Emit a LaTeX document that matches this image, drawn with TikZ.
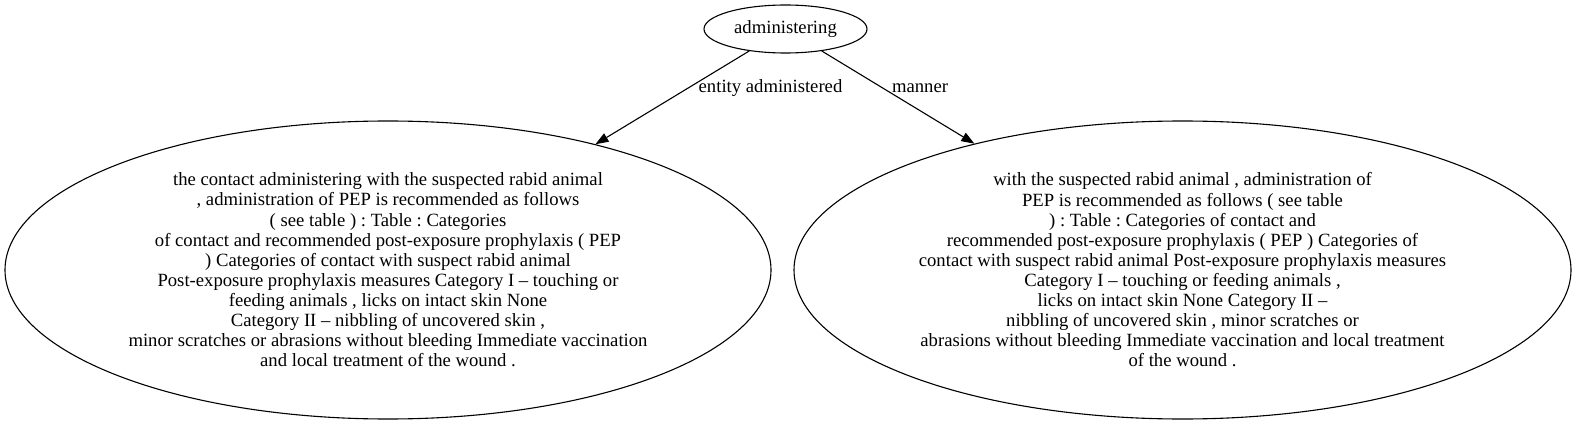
\documentclass[tikz,border=0pt]{standalone}
\usepackage{fontspec}
\setmainfont{Liberation Serif}
\usetikzlibrary{shapes.geometric,arrows.meta}
\frenchspacing
\begin{document}
\begin{tikzpicture}[x=1pt,y=-1pt,
  every node/.style={font=\fontsize{18.67}{20.1}\selectfont},
  ell/.style={draw,ellipse,line width=1.1pt,inner sep=0pt,align=center},
  edge/.style={draw,line width=1.1pt,-{Triangle[length=13pt,width=9.5pt]}},
  lbl/.style={inner sep=0pt}]
\useasboundingbox (0,0) rectangle (1577,425);
\node[ell,minimum width=163,minimum height=48] (top) at (785.5,29) {administering};
\node[ell,minimum width=766,minimum height=298] (left) at (388,270) {the contact administering with the suspected rabid animal\\
, administration of PEP is recommended as follows\\
( see table ) : Table : Categories\\
of contact and recommended post-exposure prophylaxis ( PEP\\
) Categories of contact with suspect rabid animal\\
Post-exposure prophylaxis measures Category I -- touching or\\
feeding animals , licks on intact skin None\\
Category II -- nibbling of uncovered skin ,\\
minor scratches or abrasions without bleeding Immediate vaccination\\
and local treatment of the wound .};
\node[ell,minimum width=777,minimum height=298] (right) at (1182.5,270) {with the suspected rabid animal , administration of\\
PEP is recommended as follows ( see table\\
) : Table : Categories of contact and\\
recommended post-exposure prophylaxis ( PEP ) Categories of\\
contact with suspect rabid animal Post-exposure prophylaxis measures\\
Category I -- touching or feeding animals ,\\
licks on intact skin None Category II --\\
nibbling of uncovered skin , minor scratches or\\
abrasions without bleeding Immediate vaccination and local treatment\\
of the wound .};
\path[edge] (top) -- (left);
\path[edge] (top) -- (right);
\node[lbl] (l1) at (770.5,88) {entity administered};
\node[lbl] (l2) at (920,88) {manner};
\end{tikzpicture}
\end{document}
